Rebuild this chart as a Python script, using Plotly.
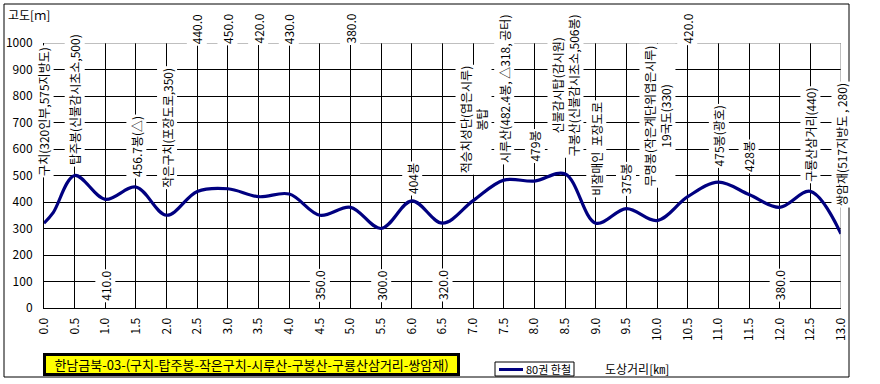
import plotly.graph_objects as go

# ---- data ----
distance_km = [0.0, 0.15, 0.5, 1.0, 1.5, 2.0, 2.5, 3.0, 3.5, 4.0, 4.5, 5.0, 5.5, 6.0, 6.5,
               7.0, 7.5, 8.0, 8.5, 9.0, 9.5, 10.0, 10.5, 11.0, 11.5, 12.0, 12.5, 13.0]
elevation_m = [320, 360, 500, 410, 456.7, 350, 440, 450, 420, 430, 350, 380, 300, 404, 320,
               405, 482.4, 479, 506, 320, 375, 330, 420, 475, 428, 380, 440, 280]
series_name = "80권 한철"

label_x = [0.0, 0.5, 1.0, 1.5, 2.0, 2.5, 3.0, 3.5, 4.0, 4.5, 5.0, 5.5, 6.0, 6.5,
           7.0, 7.5, 8.0, 8.5, 9.0, 9.5, 10.0, 10.5, 11.0, 11.5, 12.0, 12.5, 13.0]
label_text = [
    "구치(320인부,575지방도)",
    "탑주봉(신불감시초소,500)",
    "410.0",
    "456.7봉(△)",
    "작은구치(포장도로,350)",
    "440.0",
    "450.0",
    "420.0",
    "430.0",
    "350.0",
    "380.0",
    "300.0",
    "404봉",
    "320.0",
    "적승치성단(엽은시루)<br>봉탑",
    "시루산(482.4봉, △318, 공터)",
    "479봉",
    "신불감시탑(감시원)<br>구봉산(신불감시초소,506봉)",
    "비잘매인  포장도로",
    "375봉",
    "무명봉(작은계단위엽은시루)<br>19국도(330)",
    "420.0",
    "475봉(광호)",
    "428봉",
    "380.0",
    "구룡산삼거리(440)",
    "쌍암재(517지방도 , 280)",
]
label_pos = [740, 787, 85, 611, 679, 1053, 1053, 1053, 1053, 85, 1053, 85, 490, 85,
             709, 826, 611, 841, 600, 487, 724, 1053, 649, 570, 85, 655, 615]

title_text = "한남금북-03-(구치-탑주봉-작은구치-시루산-구봉산-구룡산삼거리-쌍암재)"
y_title = "고도[ｍ]"
x_title = "도상거리[㎞]"

x_range = [0, 13]
y_range = [0, 1000]

FONT = "Noto Sans CJK KR"
NAVY = "#000080"

W, H = 880, 384
ML, MR, MT, MB = 44, 39, 43, 76
PW = W - ML - MR
PH = H - MT - MB


def px_x(p):
    return (p - ML) / PW


def px_y(p):
    return (H - MB - p) / PH


fig = go.Figure()
fig.add_trace(go.Scatter(
    x=distance_km, y=elevation_m, mode="lines", name=series_name,
    line=dict(color=NAVY, width=3.2, shape="spline", smoothing=1.0),
    hoverinfo="x+y",
))

fig.update_layout(
    width=W, height=H,
    margin=dict(l=ML, r=MR, t=MT, b=MB, pad=0, autoexpand=False),
    plot_bgcolor="white", paper_bgcolor="white",
    showlegend=False,
    font=dict(family=FONT, size=12, color="black"),
)
fig.update_xaxes(
    range=x_range, tick0=0, dtick=0.5, tickformat=".1f", tickangle=-90,
    showgrid=True, gridcolor="black", gridwidth=1,
    showline=True, linecolor="black", linewidth=1,
    ticks="", zeroline=False, ticklabelstandoff=4, automargin=False,
    tickfont=dict(family=FONT, size=12),
)
fig.update_yaxes(
    range=y_range, tick0=0, dtick=100,
    showgrid=True, gridcolor="black", gridwidth=1,
    showline=True, linecolor="black", linewidth=1,
    ticks="", zeroline=False, ticklabelstandoff=8, automargin=False,
    tickfont=dict(family=FONT, size=12),
)

# gray plot-area border (top and right)
fig.add_shape(type="line", xref="x", yref="y", x0=x_range[0], x1=x_range[1],
              y0=y_range[1], y1=y_range[1], line=dict(color="#808080", width=1))
fig.add_shape(type="line", xref="x", yref="y", x0=x_range[1], x1=x_range[1],
              y0=y_range[0], y1=y_range[1], line=dict(color="#808080", width=1))

# outer chart border
fig.add_shape(type="rect", xref="paper", yref="paper",
              x0=px_x(4), x1=px_x(849), y0=px_y(377), y1=px_y(4),
              line=dict(color="black", width=1), fillcolor="rgba(0,0,0,0)")

# rotated point labels
for xv, txt, pos in zip(label_x, label_text, label_pos):
    frac = (pos - y_range[0]) / (y_range[1] - y_range[0])
    fig.add_annotation(
        x=xv, xref="x", y=frac, yref="paper",
        text=txt, textangle=-90, showarrow=False,
        xanchor="center", yanchor="middle", align="center",
        bgcolor="white", borderpad=1,
        font=dict(family=FONT, size=12, color="black"),
    )

# axis titles
fig.add_annotation(x=px_x(6), y=px_y(14), xref="paper", yref="paper",
                   text=y_title, showarrow=False, xanchor="left", yanchor="middle",
                   font=dict(family=FONT, size=12))
fig.add_annotation(x=px_x(603), y=px_y(368), xref="paper", yref="paper",
                   text=x_title, showarrow=False, xanchor="left", yanchor="middle",
                   font=dict(family=FONT, size=12))

# title box
fig.add_annotation(x=px_x(251.5), y=px_y(364), xref="paper", yref="paper",
                   text=title_text, showarrow=False, xanchor="center", yanchor="middle",
                   bgcolor="#ffff00", bordercolor="black", borderwidth=3, borderpad=0,
                   width=411, height=17,
                   font=dict(family=FONT, size=13, color="black"))

# legend box
fig.add_shape(type="rect", xref="paper", yref="paper",
              x0=px_x(495), x1=px_x(574), y0=px_y(376), y1=px_y(362),
              line=dict(color="black", width=1), fillcolor="white")
fig.add_shape(type="line", xref="paper", yref="paper",
              x0=px_x(499), x1=px_x(523), y0=px_y(369.5), y1=px_y(369.5),
              line=dict(color=NAVY, width=3))
fig.add_annotation(x=px_x(524), y=px_y(369), xref="paper", yref="paper",
                   text=series_name, showarrow=False, xanchor="left", yanchor="middle",
                   font=dict(family=FONT, size=11))

fig.write_html("out.html", config={"displayModeBar": False},
               post_script="document.body.style.margin='0';document.body.style.overflow='hidden';")
